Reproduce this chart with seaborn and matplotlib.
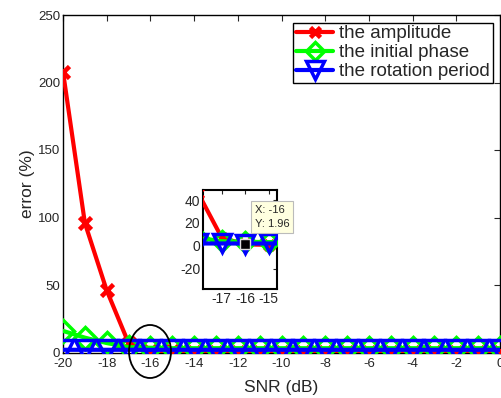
import numpy as np
import pandas as pd
import matplotlib
matplotlib.use('Agg')
import matplotlib.pyplot as plt
import seaborn as sns
from matplotlib.patches import Ellipse

snr = list(range(-20, 1))
amplitude = [208, 96, 46, 7, 1.2, 0.8, 0.6, 0.5, 0.5, 0.5, 0.5, 0.5, 0.5, 0.5, 0.5, 0.5, 0.5, 0.5, 0.5, 0.5, 0.5]
initial_phase = [16, 11, 7, 4, 3.5, 3.2, 3.2, 3.2, 3.2, 3.2, 3.2, 3.2, 3.2, 3.2, 3.2, 3.2, 3.2, 3.2, 3.2, 3.2, 3.2]
rotation_period = [2.0, 2.0, 2.0, 2.0, 1.96, 2.0, 2.0, 2.0, 2.0, 2.0, 2.0, 2.0, 2.0, 2.0, 2.0, 2.0, 2.0, 2.0, 2.0, 2.0, 2.0]
labels = ['the amplitude', 'the initial phase', 'the rotation period']

df = pd.DataFrame({'snr': snr, 'amp': amplitude, 'phase': initial_phase, 'period': rotation_period})

sns.set_style('white')
plt.rcParams['font.family'] = ['Liberation Sans', 'DejaVu Sans']
plt.rcParams['axes.unicode_minus'] = False

fig = plt.figure(figsize=(5.01, 3.98), dpi=100)
ax = fig.add_axes([63 / 501, 1 - 352.5 / 398, 437 / 501, 337.5 / 398])


def draw(a, ms, lw, mew):
    sns.lineplot(data=df, x='snr', y='amp', ax=a, color='red', lw=lw, marker='x',
                 markersize=ms * 0.6, markeredgewidth=mew + 0.8, markeredgecolor='red',
                 label=labels[0], zorder=3)
    sns.lineplot(data=df, x='snr', y='phase', ax=a, color='#00ff00', lw=lw, marker='D',
                 markersize=ms * 0.75, markeredgewidth=mew, markerfacecolor='none',
                 markeredgecolor='#00ff00', label=labels[1], zorder=4)
    sns.lineplot(data=df, x='snr', y='period', ax=a, color='blue', lw=lw, marker='v',
                 markersize=ms, markeredgewidth=mew, markerfacecolor='none',
                 markeredgecolor='blue', label=labels[2], zorder=5)


draw(ax, 15, 3, 2.5)
ax.set_xlim(-20, 0)
ax.set_ylim(0, 250)
ax.set_xticks(range(-20, 1, 2))
ax.set_yticks(range(0, 251, 50))
ax.tick_params(direction='in', length=4, labelsize=9.5, top=True, right=True)
ax.tick_params(axis='x', pad=4)
ax.tick_params(axis='y', pad=2)
ax.set_xlabel('SNR (dB)', fontsize=12.5, labelpad=7)
ax.set_ylabel('error (%)', fontsize=12.5, labelpad=2)
for s in ax.spines.values():
    s.set_color('black')
    s.set_linewidth(1)
ax.legend(loc='upper right', fontsize=13.5, frameon=True, fancybox=False, edgecolor='black',
          handlelength=2.0, borderpad=0.15, labelspacing=0.1, handletextpad=0.3,
          borderaxespad=0.4, framealpha=1, markerscale=0.85)
ax.get_legend().get_frame().set_linewidth(1)

# ellipse around SNR = -16
ell = Ellipse((150 / 501, 1 - 351.5 / 398), 42 / 501, 53 / 398, transform=fig.transFigure,
              fill=False, edgecolor='black', lw=1.3, clip_on=False)
fig.patches.append(ell)

# inset zoom
ins = fig.add_axes([203 / 501, 1 - 289 / 398, 74 / 501, 99 / 398])
draw(ins, 13, 3, 2.5)
ins.get_legend().remove()
ins.set_xlim(-17.8, -14.65)
ins.set_ylim(-38, 49)
ins.set_xticks([-17, -16, -15])
ins.set_yticks([-20, 0, 20, 40])
ins.set_xlabel('')
ins.set_ylabel('')
ins.tick_params(direction='in', length=3, labelsize=10, top=True, right=True, pad=2)
for s in ins.spines.values():
    s.set_color('black')
    s.set_linewidth(1.5)
ins.plot([-16], [1.96], marker='s', color='black', markersize=7, markeredgecolor='#dddddd', zorder=6)
ins.text(-15.6, 25, 'X: -16\nY: 1.96', fontsize=8, va='center', ha='left', zorder=7,
         clip_on=False, linespacing=1.5,
         bbox=dict(boxstyle='square,pad=0.35', facecolor='#ffffe0', edgecolor='#bbbbbb', lw=0.8))

fig.savefig('out.png', dpi=100)
